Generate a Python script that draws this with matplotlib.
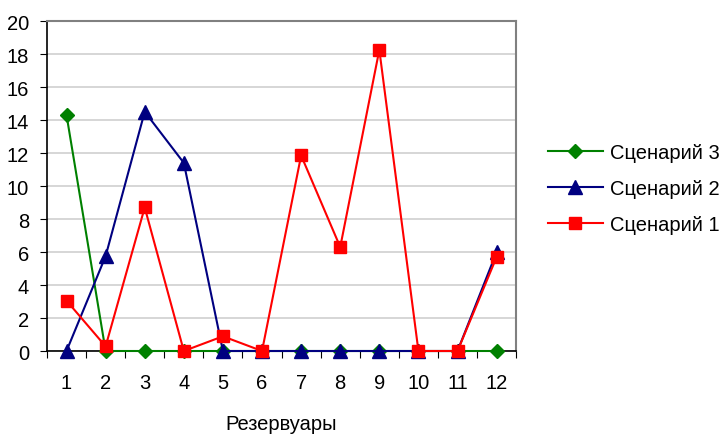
import matplotlib.pyplot as plt

plt.rcParams["font.family"] = ["Liberation Sans", "DejaVu Sans"]

tanks = list(range(1, 13))
scen1 = [3.05, 0.28, 8.7, 0.0, 0.89, 0.0, 11.85, 6.3, 18.25, 0.0, 0.0, 5.7]
scen2 = [0.0, 5.75, 14.5, 11.4, 0.0, 0.0, 0.0, 0.0, 0.0, 0.0, 0.0, 6.0]
scen3 = [14.3, 0.0, 0.0, 0.0, 0.0, 0.0, 0.0, 0.0, 0.0, 0.0, 0.0, 0.0]

FS = 14.5

fig = plt.figure(figsize=(7.26, 4.35), dpi=100)
ax = fig.add_axes([0.0647, 0.1908, 0.6463, 0.7586])

l3, = ax.plot(tanks, scen3, color="#008000", lw=1.5, marker="D", ms=7,
              label="Сценарий 3", zorder=3, clip_on=False)
l2, = ax.plot(tanks, scen2, color="#000080", lw=1.5, marker="^", ms=10,
              label="Сценарий 2", zorder=4, clip_on=False)
l1, = ax.plot(tanks, scen1, color="#FF0000", lw=1.5, marker="s", ms=8.5,
              label="Сценарий 1", zorder=5, clip_on=False)

ax.set_xlim(0.5, 12.5)
ax.set_ylim(0, 20)
ax.set_yticks(range(0, 21, 2))
# category boundaries get the tick marks, category centres get the labels
ax.set_xticks([i + 0.5 for i in range(0, 13)])
ax.set_xticklabels([])
ax.set_xticks(tanks, minor=True)
ax.set_xticklabels([str(t) for t in tanks], minor=True)
ax.tick_params(axis="x", which="major", length=5, direction="out", color="black")
ax.tick_params(axis="x", which="minor", length=0, pad=16, labelsize=FS)
ax.tick_params(axis="y", length=5, direction="out", pad=8, labelsize=FS)
ax.grid(axis="y", color="#d0d0d0", lw=1.2)
ax.set_axisbelow(True)

for side in ("top", "right"):
    ax.spines[side].set_color("#808080")
    ax.spines[side].set_linewidth(1.5)
for side in ("left", "bottom"):
    ax.spines[side].set_color("black")
    ax.spines[side].set_linewidth(1.2)

ax.set_xlabel("Резервуары", fontsize=FS, labelpad=16)

fig.legend(handles=[l3, l2, l1], loc="center left", bbox_to_anchor=(0.755, 0.564),
           frameon=False, fontsize=FS, handlelength=2.7, labelspacing=0.85,
           handletextpad=0.35, borderaxespad=0, borderpad=0)

fig.savefig("out.png", dpi=100)
